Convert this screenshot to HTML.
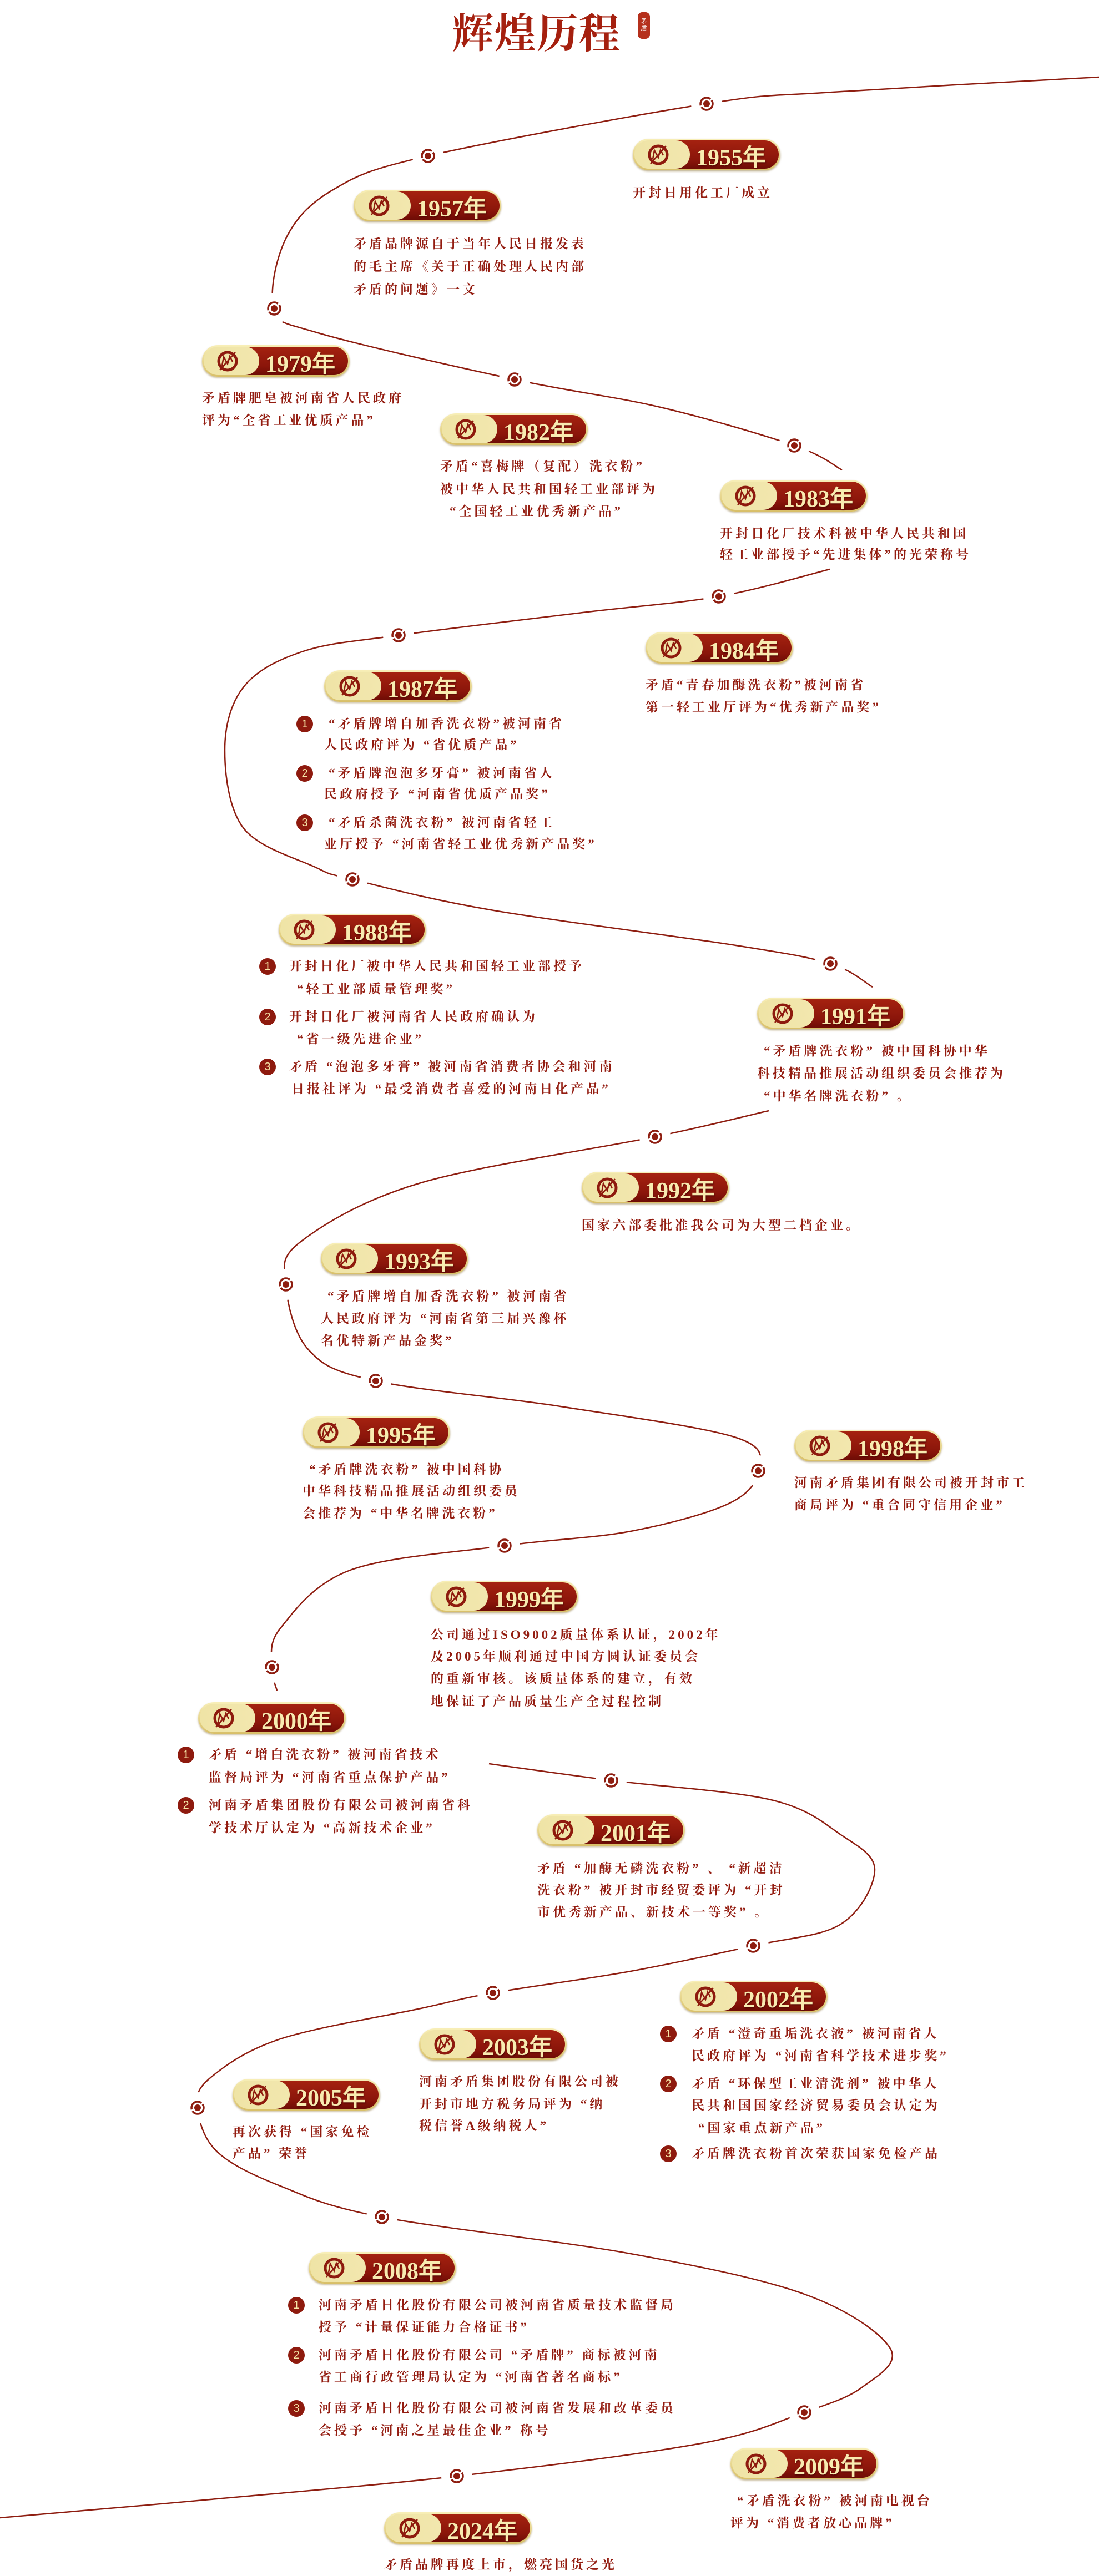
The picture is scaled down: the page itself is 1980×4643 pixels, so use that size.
<!DOCTYPE html>
<html><head><meta charset="utf-8">
<style>
html,body{margin:0;padding:0;background:#fff;}
body{width:1980px;height:4643px;position:relative;overflow:hidden;}
.b{position:absolute;width:266px;height:57px;border-radius:29px;background:linear-gradient(#f8efb8,#d8bf68);box-shadow:0 2px 3px rgba(120,90,20,.45);}
.b .r{position:absolute;left:60px;right:3px;top:3px;bottom:3px;border-radius:0 26px 26px 0;background:linear-gradient(180deg,#a52210,#8a150a 70%,#6e0c05);}
.b .c{position:absolute;left:3px;top:3px;width:100px;height:51px;border-radius:26px;background:linear-gradient(90deg,#efe4a6,#f2e7ae);}
.b svg{position:absolute;left:24px;top:7px;}
.b span{position:absolute;left:114px;top:0;line-height:57px;font:bold 42px "Liberation Serif",serif;color:#f8ebb0;text-shadow:1px 2px 2px rgba(60,0,0,.6);}
.t{position:absolute;font:bold 23px "Liberation Serif","Noto Serif CJK SC",serif;letter-spacing:5px;color:#931c10;line-height:40px;white-space:nowrap;}
.n{position:absolute;width:30px;height:30px;border-radius:15px;background:#8e1a0e;color:#f6e7a8;font:20px/30px "Liberation Sans",sans-serif;text-align:center;}
#title{position:absolute;left:815px;top:2px;font:bold 74px "Noto Serif CJK SC","Liberation Serif",serif;color:#a5200f;letter-spacing:2px;}
#seal{position:absolute;left:1149px;top:22px;width:22px;height:48px;border-radius:8px;background:#b5301c;color:#fff;font:11px/12px "Noto Sans CJK SC",sans-serif;text-align:center;padding-top:10px;box-sizing:border-box;}
</style></head><body>
<svg id="sv" width="1980" height="4643" style="position:absolute;left:0;top:0">
<g id="paths" fill="none" stroke="#8e1d10" stroke-width="2.5"></g>
<g id="dots"></g>
</svg>
<div id="title">辉煌历程</div>
<div id="seal">矛<br>盾</div>

<div class="b" style="left:1140px;top:250px"><div class="r"></div><div class="c"></div><svg width="44" height="44"><circle cx="22" cy="22" r="16" fill="none" stroke="#8e1a0e" stroke-width="5"/><path d="M12 30 L15 14 L22 27 L26 13 L31 23 M8 38 L36 6" fill="none" stroke="#8e1a0e" stroke-width="2.5"/></svg><span>1955年</span></div>
<div class="b" style="left:637px;top:342px"><div class="r"></div><div class="c"></div><svg width="44" height="44"><circle cx="22" cy="22" r="16" fill="none" stroke="#8e1a0e" stroke-width="5"/><path d="M12 30 L15 14 L22 27 L26 13 L31 23 M8 38 L36 6" fill="none" stroke="#8e1a0e" stroke-width="2.5"/></svg><span>1957年</span></div>
<div class="b" style="left:364px;top:622px"><div class="r"></div><div class="c"></div><svg width="44" height="44"><circle cx="22" cy="22" r="16" fill="none" stroke="#8e1a0e" stroke-width="5"/><path d="M12 30 L15 14 L22 27 L26 13 L31 23 M8 38 L36 6" fill="none" stroke="#8e1a0e" stroke-width="2.5"/></svg><span>1979年</span></div>
<div class="b" style="left:793px;top:745px"><div class="r"></div><div class="c"></div><svg width="44" height="44"><circle cx="22" cy="22" r="16" fill="none" stroke="#8e1a0e" stroke-width="5"/><path d="M12 30 L15 14 L22 27 L26 13 L31 23 M8 38 L36 6" fill="none" stroke="#8e1a0e" stroke-width="2.5"/></svg><span>1982年</span></div>
<div class="b" style="left:1297px;top:865px"><div class="r"></div><div class="c"></div><svg width="44" height="44"><circle cx="22" cy="22" r="16" fill="none" stroke="#8e1a0e" stroke-width="5"/><path d="M12 30 L15 14 L22 27 L26 13 L31 23 M8 38 L36 6" fill="none" stroke="#8e1a0e" stroke-width="2.5"/></svg><span>1983年</span></div>
<div class="b" style="left:1163px;top:1139px"><div class="r"></div><div class="c"></div><svg width="44" height="44"><circle cx="22" cy="22" r="16" fill="none" stroke="#8e1a0e" stroke-width="5"/><path d="M12 30 L15 14 L22 27 L26 13 L31 23 M8 38 L36 6" fill="none" stroke="#8e1a0e" stroke-width="2.5"/></svg><span>1984年</span></div>
<div class="b" style="left:584px;top:1208px"><div class="r"></div><div class="c"></div><svg width="44" height="44"><circle cx="22" cy="22" r="16" fill="none" stroke="#8e1a0e" stroke-width="5"/><path d="M12 30 L15 14 L22 27 L26 13 L31 23 M8 38 L36 6" fill="none" stroke="#8e1a0e" stroke-width="2.5"/></svg><span>1987年</span></div>
<div class="b" style="left:502px;top:1647px"><div class="r"></div><div class="c"></div><svg width="44" height="44"><circle cx="22" cy="22" r="16" fill="none" stroke="#8e1a0e" stroke-width="5"/><path d="M12 30 L15 14 L22 27 L26 13 L31 23 M8 38 L36 6" fill="none" stroke="#8e1a0e" stroke-width="2.5"/></svg><span>1988年</span></div>
<div class="b" style="left:1364px;top:1798px"><div class="r"></div><div class="c"></div><svg width="44" height="44"><circle cx="22" cy="22" r="16" fill="none" stroke="#8e1a0e" stroke-width="5"/><path d="M12 30 L15 14 L22 27 L26 13 L31 23 M8 38 L36 6" fill="none" stroke="#8e1a0e" stroke-width="2.5"/></svg><span>1991年</span></div>
<div class="b" style="left:1048px;top:2112px"><div class="r"></div><div class="c"></div><svg width="44" height="44"><circle cx="22" cy="22" r="16" fill="none" stroke="#8e1a0e" stroke-width="5"/><path d="M12 30 L15 14 L22 27 L26 13 L31 23 M8 38 L36 6" fill="none" stroke="#8e1a0e" stroke-width="2.5"/></svg><span>1992年</span></div>
<div class="b" style="left:578px;top:2240px"><div class="r"></div><div class="c"></div><svg width="44" height="44"><circle cx="22" cy="22" r="16" fill="none" stroke="#8e1a0e" stroke-width="5"/><path d="M12 30 L15 14 L22 27 L26 13 L31 23 M8 38 L36 6" fill="none" stroke="#8e1a0e" stroke-width="2.5"/></svg><span>1993年</span></div>
<div class="b" style="left:545px;top:2553px"><div class="r"></div><div class="c"></div><svg width="44" height="44"><circle cx="22" cy="22" r="16" fill="none" stroke="#8e1a0e" stroke-width="5"/><path d="M12 30 L15 14 L22 27 L26 13 L31 23 M8 38 L36 6" fill="none" stroke="#8e1a0e" stroke-width="2.5"/></svg><span>1995年</span></div>
<div class="b" style="left:1431px;top:2577px"><div class="r"></div><div class="c"></div><svg width="44" height="44"><circle cx="22" cy="22" r="16" fill="none" stroke="#8e1a0e" stroke-width="5"/><path d="M12 30 L15 14 L22 27 L26 13 L31 23 M8 38 L36 6" fill="none" stroke="#8e1a0e" stroke-width="2.5"/></svg><span>1998年</span></div>
<div class="b" style="left:776px;top:2849px"><div class="r"></div><div class="c"></div><svg width="44" height="44"><circle cx="22" cy="22" r="16" fill="none" stroke="#8e1a0e" stroke-width="5"/><path d="M12 30 L15 14 L22 27 L26 13 L31 23 M8 38 L36 6" fill="none" stroke="#8e1a0e" stroke-width="2.5"/></svg><span>1999年</span></div>
<div class="b" style="left:357px;top:3068px"><div class="r"></div><div class="c"></div><svg width="44" height="44"><circle cx="22" cy="22" r="16" fill="none" stroke="#8e1a0e" stroke-width="5"/><path d="M12 30 L15 14 L22 27 L26 13 L31 23 M8 38 L36 6" fill="none" stroke="#8e1a0e" stroke-width="2.5"/></svg><span>2000年</span></div>
<div class="b" style="left:968px;top:3270px"><div class="r"></div><div class="c"></div><svg width="44" height="44"><circle cx="22" cy="22" r="16" fill="none" stroke="#8e1a0e" stroke-width="5"/><path d="M12 30 L15 14 L22 27 L26 13 L31 23 M8 38 L36 6" fill="none" stroke="#8e1a0e" stroke-width="2.5"/></svg><span>2001年</span></div>
<div class="b" style="left:1225px;top:3570px"><div class="r"></div><div class="c"></div><svg width="44" height="44"><circle cx="22" cy="22" r="16" fill="none" stroke="#8e1a0e" stroke-width="5"/><path d="M12 30 L15 14 L22 27 L26 13 L31 23 M8 38 L36 6" fill="none" stroke="#8e1a0e" stroke-width="2.5"/></svg><span>2002年</span></div>
<div class="b" style="left:755px;top:3656px"><div class="r"></div><div class="c"></div><svg width="44" height="44"><circle cx="22" cy="22" r="16" fill="none" stroke="#8e1a0e" stroke-width="5"/><path d="M12 30 L15 14 L22 27 L26 13 L31 23 M8 38 L36 6" fill="none" stroke="#8e1a0e" stroke-width="2.5"/></svg><span>2003年</span></div>
<div class="b" style="left:419px;top:3747px"><div class="r"></div><div class="c"></div><svg width="44" height="44"><circle cx="22" cy="22" r="16" fill="none" stroke="#8e1a0e" stroke-width="5"/><path d="M12 30 L15 14 L22 27 L26 13 L31 23 M8 38 L36 6" fill="none" stroke="#8e1a0e" stroke-width="2.5"/></svg><span>2005年</span></div>
<div class="b" style="left:556px;top:4059px"><div class="r"></div><div class="c"></div><svg width="44" height="44"><circle cx="22" cy="22" r="16" fill="none" stroke="#8e1a0e" stroke-width="5"/><path d="M12 30 L15 14 L22 27 L26 13 L31 23 M8 38 L36 6" fill="none" stroke="#8e1a0e" stroke-width="2.5"/></svg><span>2008年</span></div>
<div class="b" style="left:1316px;top:4412px"><div class="r"></div><div class="c"></div><svg width="44" height="44"><circle cx="22" cy="22" r="16" fill="none" stroke="#8e1a0e" stroke-width="5"/><path d="M12 30 L15 14 L22 27 L26 13 L31 23 M8 38 L36 6" fill="none" stroke="#8e1a0e" stroke-width="2.5"/></svg><span>2009年</span></div>
<div class="b" style="left:692px;top:4528px"><div class="r"></div><div class="c"></div><svg width="44" height="44"><circle cx="22" cy="22" r="16" fill="none" stroke="#8e1a0e" stroke-width="5"/><path d="M12 30 L15 14 L22 27 L26 13 L31 23 M8 38 L36 6" fill="none" stroke="#8e1a0e" stroke-width="2.5"/></svg><span>2024年</span></div>

<div class="t" style="left:1140px;top:328px">开封日用化工厂成立</div>

<div class="t" style="left:637px;top:420px">矛盾品牌源自于当年人民日报发表</div>
<div class="t" style="left:637px;top:461px">的毛主席《关于正确处理人民内部</div>
<div class="t" style="left:637px;top:502px">矛盾的问题》一文</div>

<div class="t" style="left:364px;top:698px">矛盾牌肥皂被河南省人民政府</div>
<div class="t" style="left:364px;top:738px">评为“全省工业优质产品”</div>

<div class="t" style="left:793px;top:821px">矛盾“喜梅牌（复配）洗衣粉”</div>
<div class="t" style="left:793px;top:862px">被中华人民共和国轻工业部评为</div>
<div class="t" style="left:810px;top:902px">“全国轻工业优秀新产品”</div>

<div class="t" style="left:1297px;top:942px">开封日化厂技术科被中华人民共和国</div>
<div class="t" style="left:1297px;top:980px">轻工业部授予“先进集体”的光荣称号</div>

<div class="t" style="left:1163px;top:1215px">矛盾“青春加酶洗衣粉”被河南省</div>
<div class="t" style="left:1163px;top:1255px">第一轻工业厅评为“优秀新产品奖”</div>

<div class="n" style="left:534px;top:1290px">1</div>
<div class="t" style="left:592px;top:1285px">“矛盾牌增自加香洗衣粉”被河南省</div>
<div class="t" style="left:584px;top:1323px">人民政府评为 “省优质产品”</div>
<div class="n" style="left:534px;top:1379px">2</div>
<div class="t" style="left:592px;top:1374px">“矛盾牌泡泡多牙膏” 被河南省人</div>
<div class="t" style="left:584px;top:1412px">民政府授予 “河南省优质产品奖”</div>
<div class="n" style="left:534px;top:1468px">3</div>
<div class="t" style="left:592px;top:1463px">“矛盾杀菌洗衣粉” 被河南省轻工</div>
<div class="t" style="left:584px;top:1502px">业厅授予 “河南省轻工业优秀新产品奖”</div>

<div class="n" style="left:467px;top:1727px">1</div>
<div class="t" style="left:521px;top:1722px">开封日化厂被中华人民共和国轻工业部授予</div>
<div class="t" style="left:535px;top:1763px">“轻工业部质量管理奖”</div>
<div class="n" style="left:467px;top:1818px">2</div>
<div class="t" style="left:521px;top:1813px">开封日化厂被河南省人民政府确认为</div>
<div class="t" style="left:535px;top:1853px">“省一级先进企业”</div>
<div class="n" style="left:467px;top:1908px">3</div>
<div class="t" style="left:521px;top:1903px">矛盾 “泡泡多牙膏” 被河南省消费者协会和河南</div>
<div class="t" style="left:525px;top:1943px">日报社评为 “最受消费者喜爱的河南日化产品”</div>

<div class="t" style="left:1376px;top:1875px">“矛盾牌洗衣粉” 被中国科协中华</div>
<div class="t" style="left:1364px;top:1915px">科技精品推展活动组织委员会推荐为</div>
<div class="t" style="left:1376px;top:1956px">“中华名牌洗衣粉” 。</div>

<div class="t" style="left:1048px;top:2189px">国家六部委批准我公司为大型二档企业。</div>

<div class="t" style="left:590px;top:2317px">“矛盾牌增自加香洗衣粉” 被河南省</div>
<div class="t" style="left:578px;top:2357px">人民政府评为 “河南省第三届兴豫杯</div>
<div class="t" style="left:578px;top:2397px">名优特新产品金奖”</div>

<div class="t" style="left:557px;top:2629px">“矛盾牌洗衣粉” 被中国科协</div>
<div class="t" style="left:545px;top:2668px">中华科技精品推展活动组织委员</div>
<div class="t" style="left:545px;top:2708px">会推荐为 “中华名牌洗衣粉”</div>

<div class="t" style="left:1431px;top:2653px">河南矛盾集团有限公司被开封市工</div>
<div class="t" style="left:1431px;top:2693px">商局评为 “重合同守信用企业”</div>

<div class="t" style="left:776px;top:2927px">公司通过ISO9002质量体系认证，2002年</div>
<div class="t" style="left:776px;top:2966px">及2005年顺利通过中国方圆认证委员会</div>
<div class="t" style="left:776px;top:3006px">的重新审核。该质量体系的建立，有效</div>
<div class="t" style="left:776px;top:3047px">地保证了产品质量生产全过程控制</div>

<div class="n" style="left:320px;top:3148px">1</div>
<div class="t" style="left:376px;top:3143px">矛盾 “增白洗衣粉” 被河南省技术</div>
<div class="t" style="left:376px;top:3184px">监督局评为 “河南省重点保护产品”</div>
<div class="n" style="left:320px;top:3239px">2</div>
<div class="t" style="left:376px;top:3234px">河南矛盾集团股份有限公司被河南省科</div>
<div class="t" style="left:376px;top:3275px">学技术厅认定为 “高新技术企业”</div>

<div class="t" style="left:968px;top:3348px">矛盾 “加酶无磷洗衣粉” 、 “新超洁</div>
<div class="t" style="left:968px;top:3387px">洗衣粉” 被开封市经贸委评为 “开封</div>
<div class="t" style="left:968px;top:3427px">市优秀新产品、新技术一等奖” 。</div>

<div class="n" style="left:1189px;top:3651px">1</div>
<div class="t" style="left:1246px;top:3646px">矛盾 “澄奇重垢洗衣液” 被河南省人</div>
<div class="t" style="left:1246px;top:3686px">民政府评为 “河南省科学技术进步奖”</div>
<div class="n" style="left:1189px;top:3741px">2</div>
<div class="t" style="left:1246px;top:3736px">矛盾 “环保型工业清洗剂” 被中华人</div>
<div class="t" style="left:1246px;top:3775px">民共和国国家经济贸易委员会认定为</div>
<div class="t" style="left:1258px;top:3816px">“国家重点新产品”</div>
<div class="n" style="left:1189px;top:3867px">3</div>
<div class="t" style="left:1246px;top:3862px">矛盾牌洗衣粉首次荣获国家免检产品</div>

<div class="t" style="left:755px;top:3732px">河南矛盾集团股份有限公司被</div>
<div class="t" style="left:755px;top:3773px">开封市地方税务局评为 “纳</div>
<div class="t" style="left:755px;top:3812px">税信誉A级纳税人”</div>

<div class="t" style="left:419px;top:3823px">再次获得 “国家免检</div>
<div class="t" style="left:419px;top:3862px">产品” 荣誉</div>

<div class="n" style="left:519px;top:4140px">1</div>
<div class="t" style="left:574px;top:4135px">河南矛盾日化股份有限公司被河南省质量技术监督局</div>
<div class="t" style="left:574px;top:4175px">授予 “计量保证能力合格证书”</div>
<div class="n" style="left:519px;top:4230px">2</div>
<div class="t" style="left:574px;top:4225px">河南矛盾日化股份有限公司 “矛盾牌” 商标被河南</div>
<div class="t" style="left:574px;top:4265px">省工商行政管理局认定为 “河南省著名商标”</div>
<div class="n" style="left:519px;top:4326px">3</div>
<div class="t" style="left:574px;top:4321px">河南矛盾日化股份有限公司被河南省发展和改革委员</div>
<div class="t" style="left:574px;top:4361px">会授予 “河南之星最佳企业” 称号</div>

<div class="t" style="left:1328px;top:4488px">“矛盾洗衣粉” 被河南电视台</div>
<div class="t" style="left:1316px;top:4528px">评为 “消费者放心品牌”</div>

<div class="t" style="left:692px;top:4603px">矛盾品牌再度上市，燃亮国货之光</div>

<script>
var segs=[
[[1980,139],[1500,166],[1273,187],[771,281],[600,342],[515,430],[494,556],[573,600],[927,684],[1190,734],[1431,803],[1517,847]],
[[1495,1026],[1295,1075],[1050,1104],[718,1145],[546,1174],[439,1238],[405,1352],[439,1493],[568,1563],[635,1585],[884,1640],[1326,1704],[1496,1737],[1572,1779]],
[[1385,2002],[1180,2049],[758,2132],[543,2237],[515,2315],[556,2433],[677,2489],[1010,2535],[1326,2591],[1366,2651],[1313,2710],[1136,2760],[909,2786],[631,2830],[505,2935],[490,3005],[499,3047]],
[[881,3179],[1101,3209],[1389,3244],[1515,3307],[1576,3370],[1515,3468],[1357,3507],[1136,3553],[888,3592],[758,3620],[505,3675],[379,3745],[356,3799],[391,3878],[505,3940],[688,3996],[1136,4062],[1452,4136],[1604,4233],[1553,4303],[1449,4348],[1263,4404],[823,4463],[379,4505],[0,4538]]
];
var g=document.getElementById('paths'),ns='http://www.w3.org/2000/svg';
segs.forEach(function(p){
 var d='M'+p[0][0]+' '+p[0][1];
 for(var i=0;i<p.length-1;i++){
  var p0=p[i-1]||p[i],p1=p[i],p2=p[i+1],p3=p[i+2]||p2;
  var c1=[p1[0]+(p2[0]-p0[0])/6,p1[1]+(p2[1]-p0[1])/6];
  var c2=[p2[0]-(p3[0]-p1[0])/6,p2[1]-(p3[1]-p1[1])/6];
  d+=' C'+c1[0].toFixed(1)+' '+c1[1].toFixed(1)+' '+c2[0].toFixed(1)+' '+c2[1].toFixed(1)+' '+p2[0]+' '+p2[1];
 }
 var e=document.createElementNS(ns,'path');e.setAttribute('d',d);g.appendChild(e);
});
var dots=[[1273,187],[771,281],[494,556],[927,684],[1431,803],[1295,1075],[718,1145],[635,1585],[1496,1737],[1180,2049],[515,2315],[677,2489],[1366,2651],[909,2786],[490,3005],[1101,3209],[1357,3507],[888,3592],[356,3799],[688,3996],[1449,4348],[823,4463]];
var dg=document.getElementById('dots');
dots.forEach(function(q){
 var a=document.createElementNS(ns,'circle');a.setAttribute('cx',q[0]);a.setAttribute('cy',q[1]);a.setAttribute('r',28);a.setAttribute('fill','#fff');dg.appendChild(a);
 var b=document.createElementNS(ns,'circle');b.setAttribute('cx',q[0]);b.setAttribute('cy',q[1]);b.setAttribute('r',11);b.setAttribute('fill','none');b.setAttribute('stroke','#8e1d10');b.setAttribute('stroke-width',3.5);b.setAttribute('stroke-dasharray','28 3');dg.appendChild(b);
 var c=document.createElementNS(ns,'circle');c.setAttribute('cx',q[0]);c.setAttribute('cy',q[1]);c.setAttribute('r',6);c.setAttribute('fill','#8e1d10');dg.appendChild(c);
});
</script>
</body></html>
